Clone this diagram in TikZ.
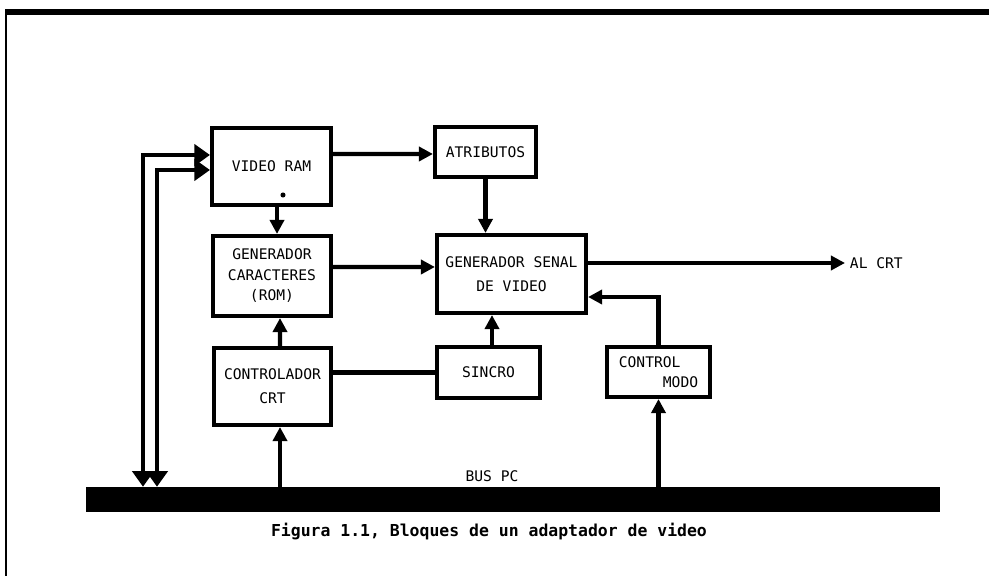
\documentclass[tikz,border=0pt]{standalone}
\usepackage{fontspec}
\setmonofont{DejaVu Sans Mono}
\usetikzlibrary{positioning, arrows.meta}

\begin{document}
\begin{tikzpicture}[
		x=0.025cm, y=-0.025cm,
		>={Triangle[length=10pt,width=10pt]},
		block/.style={draw, line width=2.9pt, inner sep=0pt, align=center, font=\ttfamily\fontsize{10.4}{14.6}\selectfont},
		link/.style={->, line width=3pt},
		dbus/.style={<->, line width=2.4pt, >={Triangle[length=11pt,width=15pt]}},
		label_font/.style={font=\ttfamily\fontsize{10.4}{14.6}\selectfont},
		caption_font/.style={font=\ttfamily\bfseries\fontsize{11.7}{14}\selectfont}
		]
		\useasboundingbox (0,0) rectangle (989,576);
		
		% --- FRAME ---
		\draw[line width=4pt] (5,12) -- (989,12);
		\draw[line width=2pt] (6,12) -- (6,576);
		
		% --- BLOCKS ---
		\node[block, minimum width=2.975cm, minimum height=1.925cm] (vram) at (271.5,166.5) {VIDEO RAM};
		\node[block, minimum width=2.525cm, minimum height=1.25cm] (atrib) at (485.5,152) {ATRIBUTOS};
		\node[block, minimum width=2.95cm, minimum height=2.0cm] (gchar) at (272,276) {GENERADOR\\CARACTERES\\(ROM)};
		\node[block, minimum width=3.725cm, minimum height=1.95cm] (gsv) at (511.5,274) {GENERADOR SENAL\\[0.08cm]DE VIDEO};
		\node[block, minimum width=2.925cm, minimum height=1.925cm] (crtc) at (272.5,386.5) {CONTROLADOR\\[0.08cm]CRT};
		\node[block, minimum width=2.575cm, minimum height=1.275cm] (sincro) at (488.5,372.5) {SINCRO};
		\node[block, minimum width=2.575cm, minimum height=1.25cm, align=left] (cmodo) at (658.5,372) {CONTROL\\\hphantom{CONTR}MODO};
		
		% small dot in the video ram block
		\fill (283,195) circle (1.8pt);
		
		% --- BUS ---
		\node[fill=black, inner sep=0pt, minimum width=21.35cm, minimum height=0.625cm] (bus) at (513,499.5) {};
		\node[label_font] (buspc) at (492,476) {BUS PC};
		
		% --- OUTPUT ---
		\node[label_font, anchor=west] (alcrt) at (845,263) {AL CRT};
		
		% --- CONNECTIONS ---
		\draw[link] ([yshift=0.3125cm]vram.east) -- ([yshift=-0.05cm]atrib.west);
		\draw[link] ([xshift=0.1375cm]vram.south) -- ([xshift=0.125cm]gchar.north);
		\draw[link] (atrib.south) -- (atrib.south |- gsv.north);
		\draw[link] ([yshift=0.225cm]gchar.east) -- ([yshift=0.175cm]gsv.west);
		\draw[line width=3pt] (sincro.west -| crtc.east) -- (sincro.west);
		\draw[link] ([xshift=0.0875cm]sincro.north) -- ([xshift=0.0875cm]sincro.north |- gsv.south);
		\draw[link] ([xshift=0.1875cm]crtc.north) -- ([xshift=0.2cm]gchar.south);
		\draw[link] ([xshift=0.1875cm]crtc.south |- bus.north) -- ([xshift=0.1875cm]crtc.south);
		\draw[link] (cmodo.south |- bus.north) -- (cmodo.south);
		\draw[link] (cmodo.north) |- ([yshift=-0.575cm]gsv.east);
		\draw[link] (alcrt.west -| gsv.east) -- (alcrt.west);
		
		% bus <-> video ram (data and address)
		\coordinate (dl1) at (143,0);
		\coordinate (dl2) at (157,0);
		\draw[dbus] (dl1 |- bus.north) |- ([yshift=0.2875cm]vram.west);
		\draw[dbus] (dl2 |- bus.north) |- ([yshift=-0.0875cm]vram.west);
		
		% --- CAPTION ---
		\node[caption_font] (caption) at (489,532) {Figura 1.1, Bloques de un adaptador de video};
		
	\end{tikzpicture}
\end{document}
